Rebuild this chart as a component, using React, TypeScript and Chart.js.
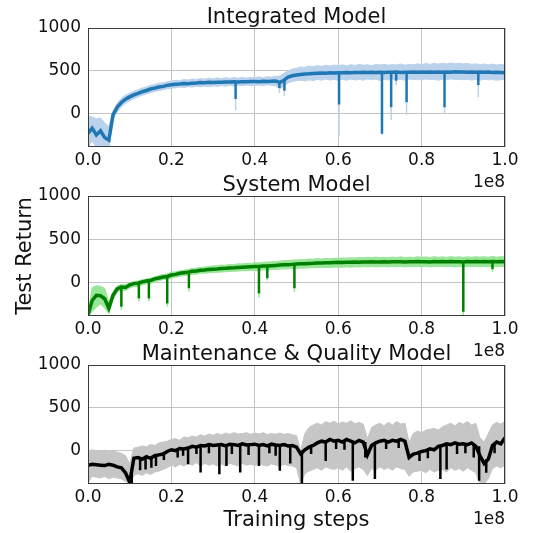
import React, { useEffect, useRef } from "react";
import { Chart, registerables } from "chart.js";

Chart.register(...registerables);

// x grid in units of 1e6 training steps (axis shows 0.0 .. 1.0 x 1e8)
const steps: number[] = Array.from({ length: 101 }, (_, i) => i);
const xTickValues = [0, 20, 40, 60, 80, 100];
const yTickValues = [0, 500, 1000];

// ---------- Integrated Model ----------
const integratedMean = [
  -230, -170, -250, -200, -280, -310, -15, 75, 130, 168,
  195, 218, 236, 256, 270, 287, 298, 310, 318, 330,
  336, 342, 345, 352, 350, 356, 358, 362, 360, 365,
  363, 367, 365, 369, 368, 371, 370, 373, 371, 374,
  376, 373, 377, 375, 378, 380, 365, 390, 428, 442,
  452, 458, 463, 465, 469, 471, 473, 472, 476, 475,
  478, 476, 480, 478, 481, 479, 482, 480, 483, 481,
  484, 480, 483, 482, 485, 481, 484, 482, 486, 483,
  485, 482, 486, 484, 487, 483, 486, 484, 488, 485,
  487, 483, 486, 484, 487, 482, 485, 481, 484, 480,
  476,
];
const integratedHigh = [
  -30, -40, -60, -50, -110, -150, 30, 120, 180, 215,
  240, 262, 280, 300, 312, 330, 340, 355, 360, 372,
  378, 390, 385, 400, 392, 405, 398, 410, 402, 415,
  405, 418, 408, 420, 410, 422, 412, 425, 414, 424,
  418, 428, 420, 430, 425, 435, 440, 470, 500, 520,
  530, 545, 540, 555, 548, 560, 552, 565, 555, 568,
  560, 570, 558, 572, 562, 575, 565, 570, 560, 575,
  568, 578, 565, 572, 570, 580, 566, 575, 570, 582,
  572, 585, 575, 588, 578, 590, 580, 592, 582, 588,
  580, 585, 575, 582, 572, 580, 570, 578, 568, 575,
  565,
];
const integratedLow = [
  -400, -320, -390, -370, -395, -400, -70, 20, 80, 120,
  150, 175, 195, 215, 230, 245, 258, 268, 280, 290,
  298, 300, 310, 305, 315, 310, 320, 312, 322, 315,
  325, 318, 328, 320, 330, 322, 332, 325, 335, 328,
  330, 335, 328, 338, 330, 325, 290, 320, 360, 375,
  385, 390, 380, 395, 385, 400, 390, 405, 392, 400,
  388, 402, 390, 405, 392, 400, 390, 405, 395, 402,
  388, 400, 392, 405, 395, 400, 390, 405, 396, 402,
  392, 405, 398, 400, 390, 402, 395, 405, 398, 402,
  395, 400, 392, 398, 390, 402, 395, 398, 390, 396,
  400,
];
const integratedSpikeX = [35.4, 45.9, 47.1, 60.2, 70.5, 72.7, 73.9, 76.4, 85.5, 93.6];
const integratedSpikeTop = [370, 380, 390, 478, 482, 484, 484, 482, 485, 485];
const integratedSpikeBottom = [171, 299, 267, 105, -236, 74, 384, 132, 74, 333];
const integratedBandSpikeBottom = [43, 240, 209, -256, -250, -74, 330, -12, 4, 190];

// ---------- System Model ----------
const systemMean = [
  -380, -210, -150, -155, -190, -300, -150, -75, -55, -60,
  -30, -15, -10, 5, 15, 22, 40, 50, 62, 68,
  85, 92, 105, 112, 118, 128, 132, 140, 143, 150,
  152, 155, 160, 162, 167, 168, 172, 175, 177, 180,
  182, 183, 188, 190, 193, 196, 200, 203, 205, 208,
  212, 214, 216, 219, 220, 223, 224, 226, 227, 230,
  232, 231, 234, 233, 235, 234, 236, 235, 237, 235,
  236, 238, 236, 239, 237, 238, 236, 239, 237, 240,
  238, 239, 236, 240, 238, 241, 238, 240, 237, 239,
  236, 240, 238, 241, 239, 240, 237, 240, 238, 241,
  238,
];
const systemHigh = [
  -340, -60, -40, -45, -70, -230, -110, -40, -25, -30,
  -5, 10, 15, 30, 40, 48, 65, 78, 90, 98,
  118, 122, 135, 140, 150, 160, 165, 172, 178, 185,
  190, 192, 200, 198, 208, 205, 215, 212, 220, 218,
  228, 225, 232, 235, 238, 242, 246, 250, 252, 258,
  260, 265, 262, 270, 268, 275, 270, 278, 272, 280,
  278, 283, 280, 285, 282, 288, 284, 290, 285, 292,
  286, 290, 285, 293, 288, 295, 286, 292, 288, 296,
  290, 294, 288, 297, 290, 295, 289, 298, 290, 296,
  288, 295, 290, 297, 292, 296, 290, 298, 292, 297,
  295,
];
const systemLow = [
  -390, -340, -290, -250, -300, -360, -200, -115, -90, -95,
  -65, -50, -45, -30, -15, -10, 5, 20, 30, 38,
  50, 58, 70, 78, 82, 92, 95, 105, 106, 112,
  114, 116, 120, 122, 126, 128, 130, 135, 134, 138,
  138, 140, 144, 145, 148, 150, 153, 156, 156, 160,
  162, 163, 165, 168, 168, 170, 171, 173, 172, 176,
  176, 174, 178, 176, 180, 177, 182, 178, 183, 179,
  181, 183, 179, 184, 180, 183, 178, 184, 180, 185,
  181, 183, 178, 185, 181, 186, 180, 184, 179, 183,
  178, 184, 180, 186, 181, 184, 179, 185, 180, 186,
  182,
];
const systemSpikeX = [8.0, 12.2, 14.6, 19.0, 24.2, 41.0, 43.0, 49.5, 90.0, 97.0];
const systemSpikeTop = [-60, -10, 20, 70, 120, 182, 190, 210, 238, 240];
const systemSpikeBottom = [-283, -186, -186, -244, -70, -128, 47, -70, -342, 151];
const systemBandSpikeBottom = [-320, -220, -220, -280, -110, -180, 20, -110, -385, 120];

// ---------- Maintenance & Quality Model ----------
const maintenanceMean = [
  -170, -160, -165, -170, -175, -160, -170, -190, -200, -260,
  -370, -90, -80, -100, -70, -90, -60, -50, -40, -10,
  10, 0, 25, 20, 30, 50, 40, 60, 55, 70,
  60, 65, 70, 55, 75, 70, 60, 80, 65, 70,
  75, 60, 70, 55, 75, 65, 60, 70, 55, 60,
  40, -40, 10, 40, 60, 90, 110, 100, 130, 110,
  120, 100, 130, 110, 90, 120, 100, -50, 60, 90,
  110, 120, 100, 120, 110, 130, 110, -80, -40, -30,
  -10, 0, 20, 10, 50, 60, 80, 70, 90, 75,
  80, 70, 90, 50, -60, -150, -100, 60, 100, 80,
  150,
];
const maintenanceHigh = [
  -20, 10, 0, -5, 5, -10, 0, -20, -30, -60,
  -150, 30, 40, 55, 45, 70, 60, 90, 100, 110,
  130, 140, 120, 160, 150, 170, 160, 185, 170, 195,
  180, 200, 185, 205, 190, 210, 195, 200, 210, 190,
  205, 195, 210, 188, 200, 192, 205, 190, 200, 185,
  175, 0, 200, 270, 300, 320, 300, 340, 320, 345,
  310, 335, 320, 350, 315, 330, 310, 140, 270, 300,
  320, 290, 330, 300, 340, 310, 320, 100, 200, 230,
  210, 240, 250, 260, 240, 280, 300, 320, 290, 330,
  310, 340, 300, 320, 150, 100, 200, 300, 330, 310,
  340,
];
const maintenanceLow = [
  -380, -300, -310, -320, -300, -330, -310, -320, -330, -360,
  -395, -290, -270, -290, -260, -280, -250, -240, -220, -200,
  -170, -190, -160, -180, -150, -170, -140, -180, -150, -170,
  -155, -180, -160, -175, -150, -165, -180, -150, -170, -160,
  -175, -155, -170, -180, -155, -170, -185, -160, -175, -180,
  -200, -390, -270, -240, -220, -200, -230, -190, -210, -220,
  -200, -230, -190, -240, -210, -190, -220, -290, -210, -230,
  -190, -220, -200, -230, -190, -210, -220, -300, -250, -240,
  -230, -260, -220, -250, -230, -220, -250, -200, -230, -210,
  -240, -200, -230, -260, -390, -390, -330, -210, -180, -200,
  -170,
];
const maintenanceSpikeX = [
  10.5, 12.5, 13.8, 15.2, 16.3, 18.2, 21.5, 22.8, 24.0, 26.0,
  27.0, 29.0, 31.5, 33.2, 34.5, 36.5, 38.5, 41.0, 43.5, 45.0,
  46.0, 48.5, 51.3, 53.5, 57.0, 59.5, 61.5, 63.5, 66.5, 68.8,
  71.5, 74.5, 79.5, 81.5, 84.5, 86.0, 88.5, 90.5, 92.5, 93.8,
  95.5, 97.5,
];
const maintenanceSpikeTop = [
  -250, -85, -90, -80, -55, -40, 5, 20, 30, 45,
  60, 60, 65, 60, 70, 65, 70, 60, 60, 70,
  60, 60, 0, 40, 100, 110, 110, 110, 100, 95,
  115, 115, -30, 0, 50, 80, 80, 75, 85, 50,
  -100, 80,
];
const maintenanceSpikeBottom = [
  -385, -230, -220, -200, -180, -110, -80, -60, -160, -40,
  -256, -30, -275, -180, -40, -256, -50, -180, -30, -60,
  -236, -150, -385, -40, -120, 20, 10, -353, -80, -333,
  20, 30, -120, -90, -333, -220, -40, -30, -80, -353,
  -260, -30,
];
const maintenanceBandSpikeBottom: number[] = [];

const Y_MIN = -390;
const Y_MAX = 1000;
const FONT = '"DejaVu Sans", Verdana, sans-serif';

type PanelProps = {
  top: number;
  height: number;
  plotTop: number;
  plotH: number;
  title: string;
  mean: number[];
  high: number[];
  low: number[];
  spikeX: number[];
  spikeTop: number[];
  spikeBottom: number[];
  bandSpikeBottom: number[];
  lineColor: string;
  bandColor: string;
  yLabel?: string;
  xLabel?: string;
};

const decoPlugin = {
  id: "deco",
  afterDraw(chart: any, _args: any, opts: any) {
    const { ctx, chartArea: a } = chart;
    ctx.save();
    // frame (matplotlib spines)
    ctx.strokeStyle = "#3a3a3a";
    ctx.lineWidth = 1;
    const l = Math.round(a.left) + 0.5;
    const t = Math.round(a.top) + 0.5;
    const r = Math.round(a.right) - 0.5;
    const b = Math.round(a.bottom) - 0.5;
    ctx.strokeRect(l, t, r - l, b - t);
    ctx.fillStyle = "#111";
    // title
    ctx.font = `21px ${FONT}`;
    ctx.textAlign = "center";
    ctx.textBaseline = "alphabetic";
    ctx.fillText(opts.title, (a.left + a.right) / 2, a.top - 5);
    // offset text
    ctx.font = `17px ${FONT}`;
    ctx.textAlign = "right";
    ctx.fillText("1e8", a.right, a.bottom + 40);
    if (opts.xLabel) {
      ctx.font = `21px ${FONT}`;
      ctx.textAlign = "center";
      ctx.fillText(opts.xLabel, (a.left + a.right) / 2, a.bottom + 42);
    }
    if (opts.yLabel) {
      ctx.font = `21px ${FONT}`;
      ctx.translate(31, (a.top + a.bottom) / 2);
      ctx.rotate(-Math.PI / 2);
      ctx.textAlign = "center";
      ctx.fillText(opts.yLabel, 0, 0);
    }
    ctx.restore();
  },
};

function segments(xs: number[], tops: number[], bottoms: number[]) {
  const out: any[] = [];
  xs.forEach((x, i) => {
    out.push({ x, y: tops[i] });
    out.push({ x, y: bottoms[i] });
    out.push({ x, y: null });
  });
  return out;
}

function Panel(p: PanelProps) {
  const ref = useRef<HTMLCanvasElement | null>(null);
  useEffect(() => {
    if (!ref.current) return;
    const padTop = p.plotTop - p.top;
    const xAxisH = p.height - padTop - p.plotH;
    const pts = (vals: number[]) => steps.map((x, i) => ({ x, y: vals[i] }));
    const chart = new Chart(ref.current, {
      type: "line",
      data: {
        datasets: [
          {
            data: pts(p.mean),
            borderColor: p.lineColor,
            borderWidth: 3.5,
            pointRadius: 0,
            tension: 0,
            fill: false,
            order: 0,
          },
          {
            data: segments(p.spikeX, p.spikeTop, p.spikeBottom),
            borderColor: p.lineColor,
            borderWidth: 2.5,
            pointRadius: 0,
            spanGaps: false,
            fill: false,
            order: 1,
          },
          {
            data: segments(p.spikeX.slice(0, p.bandSpikeBottom.length), p.spikeBottom, p.bandSpikeBottom),
            borderColor: p.bandColor,
            borderWidth: 1.5,
            pointRadius: 0,
            spanGaps: false,
            fill: false,
            order: 2,
          },
          {
            data: pts(p.low),
            borderColor: p.bandColor,
            borderWidth: 1,
            pointRadius: 0,
            tension: 0,
            fill: false,
            order: 4,
          },
          {
            data: pts(p.high),
            borderColor: p.bandColor,
            borderWidth: 1,
            backgroundColor: p.bandColor,
            pointRadius: 0,
            tension: 0,
            fill: "-1",
            order: 3,
          },
        ],
      } as any,
      options: {
        animation: false,
        responsive: false,
        devicePixelRatio: 1,
        events: [],
        layout: { padding: { top: padTop, right: 44, left: 0, bottom: 0 } },
        plugins: {
          legend: { display: false },
          tooltip: { enabled: false },
          deco: { title: p.title, xLabel: p.xLabel, yLabel: p.yLabel },
        } as any,
        scales: {
          x: {
            type: "linear",
            min: 0,
            max: 100,
            afterFit: (s: any) => {
              s.height = xAxisH;
            },
            afterBuildTicks: (s: any) => {
              s.ticks = xTickValues.map((v) => ({ value: v }));
            },
            ticks: {
              autoSkip: false,
              maxRotation: 0,
              padding: 3,
              color: "#111",
              font: { family: FONT, size: 17 },
              callback: (v: any) => (Number(v) / 100).toFixed(1),
            },
            grid: { color: "#c4c4c4", lineWidth: 1, drawTicks: false },
            border: { display: false },
          },
          y: {
            type: "linear",
            min: Y_MIN,
            max: Y_MAX,
            afterFit: (s: any) => {
              s.width = 88;
            },
            afterBuildTicks: (s: any) => {
              s.ticks = yTickValues.map((v) => ({ value: v }));
            },
            ticks: {
              padding: 7,
              color: "#111",
              font: { family: FONT, size: 17 },
              callback: (v: any) => String(v),
            },
            grid: { color: "#c4c4c4", lineWidth: 1, drawTicks: false },
            border: { display: false },
          },
        },
      } as any,
      plugins: [decoPlugin],
    });
    return () => chart.destroy();
  }, []);
  return (
    <canvas
      ref={ref}
      width={549}
      height={p.height}
      style={{ position: "absolute", left: 0, top: p.top, width: 549, height: p.height }}
    />
  );
}

export default function App() {
  return (
    <div style={{ position: "absolute", left: 0, top: 0, width: 549, height: 533, background: "#fff" }}>
      <Panel
        top={0}
        height={190}
        plotTop={28}
        plotH={119}
        title="Integrated Model"
        mean={integratedMean}
        high={integratedHigh}
        low={integratedLow}
        spikeX={integratedSpikeX}
        spikeTop={integratedSpikeTop}
        spikeBottom={integratedSpikeBottom}
        bandSpikeBottom={integratedBandSpikeBottom}
        lineColor="#1f77b4"
        bandColor="#bad2ec"
      />
      <Panel
        top={168}
        height={190}
        plotTop={196}
        plotH={120}
        title="System Model"
        mean={systemMean}
        high={systemHigh}
        low={systemLow}
        spikeX={systemSpikeX}
        spikeTop={systemSpikeTop}
        spikeBottom={systemSpikeBottom}
        bandSpikeBottom={systemBandSpikeBottom}
        lineColor="#008000"
        bandColor="#98e698"
        yLabel="Test Return"
      />
      <Panel
        top={337}
        height={196}
        plotTop={365}
        plotH={119}
        title="Maintenance & Quality Model"
        mean={maintenanceMean}
        high={maintenanceHigh}
        low={maintenanceLow}
        spikeX={maintenanceSpikeX}
        spikeTop={maintenanceSpikeTop}
        spikeBottom={maintenanceSpikeBottom}
        bandSpikeBottom={maintenanceBandSpikeBottom}
        lineColor="#000000"
        bandColor="#c6c6c6"
        xLabel="Training steps"
      />
    </div>
  );
}
